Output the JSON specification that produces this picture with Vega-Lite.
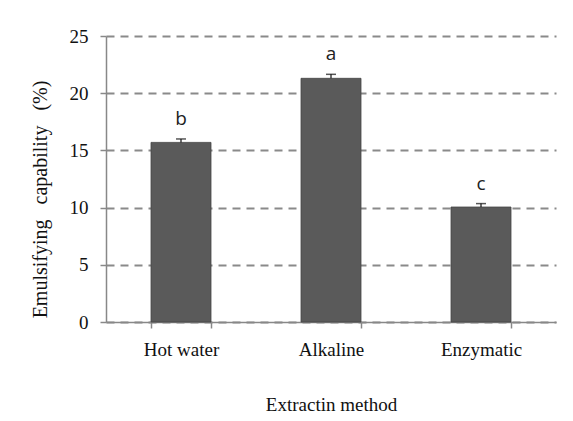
{
  "$schema": "https://vega.github.io/schema/vega-lite/v6.json",
  "width": 450,
  "height": 286,
  "autosize": {"type": "none"},
  "padding": {"left": 106, "top": 36, "right": 17, "bottom": 99},
  "background": "white",
  "data": {"values": [
    {"method": "Hot water", "value": 15.7, "upper": 16.0, "letter": "b"},
    {"method": "Alkaline", "value": 21.3, "upper": 21.65, "letter": "a"},
    {"method": "Enzymatic", "value": 10.05, "upper": 10.35, "letter": "c"}
  ]},
  "config": {
    "view": {"stroke": null},
    "axis": {"labelFont": "Liberation Serif", "titleFont": "Liberation Serif", "labelColor": "#111", "titleColor": "#111", "titleFontWeight": "normal", "domainColor": "#888", "tickColor": "#888", "domainWidth": 1.5, "tickWidth": 1.5}
  },
  "encoding": {
    "x": {"field": "method", "type": "nominal", "sort": ["Hot water", "Alkaline", "Enzymatic"],
      "scale": {"paddingInner": 0.6, "paddingOuter": 0.3},
      "axis": {"title": "Extractin method", "labelAngle": 0, "labelFontSize": 19, "titleFontSize": 19, "tickBand": "extent", "tickSize": 6, "labelPadding": 12, "titlePadding": 36}}
  },
  "layer": [
    {
      "mark": {"type": "bar", "color": "#5a5a5a", "stroke": "#444", "strokeWidth": 0.8},
      "encoding": {
        "y": {"field": "value", "type": "quantitative", "scale": {"domain": [0, 25], "padding": 0, "nice": false},
          "axis": {"title": "Emulsifying\u00a0\u00a0 capability\u00a0\u00a0 (%)", "values": [0, 5, 10, 15, 20, 25], "labelFontSize": 19, "titleFontSize": 20, "tickSize": 6, "labelPadding": 12, "titlePadding": 19, "titleY": 163, "grid": true, "gridDash": [8, 6], "gridColor": "#8a8a8a", "gridWidth": 1.8}}
      }
    },
    {
      "mark": {"type": "rule", "color": "#111", "strokeWidth": 1.2},
      "encoding": {"y": {"field": "value", "type": "quantitative"}, "y2": {"field": "upper"}}
    },
    {
      "mark": {"type": "tick", "color": "#111", "size": 10, "thickness": 1.5, "orient": "horizontal"},
      "encoding": {"y": {"field": "upper", "type": "quantitative"}}
    },
    {
      "mark": {"type": "text", "font": "Open Sans", "fontSize": 19, "baseline": "bottom", "dy": -10, "color": "#222"},
      "encoding": {"y": {"field": "upper", "type": "quantitative"}, "text": {"field": "letter"}}
    }
  ]
}
